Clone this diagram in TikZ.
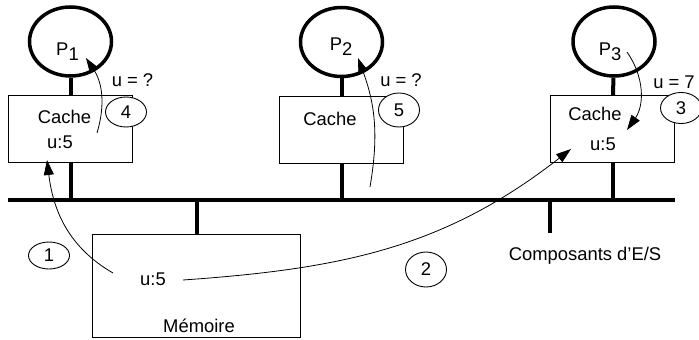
\documentclass[tikz,border=0pt]{standalone}
\usepackage{fontspec}
\setmainfont{Liberation Sans}
\usetikzlibrary{positioning,arrows.meta,shapes.geometric}

\begin{document}
\begin{tikzpicture}[
  x=1pt, y=-1pt,
  font=\fontsize{18.4}{20}\selectfont,
  proc/.style   = {draw, ellipse, line width=3.5pt, inner sep=0pt,
                   minimum width=82pt, minimum height=69pt},
  cache/.style  = {draw, line width=0.9pt, inner sep=0pt,
                   minimum width=124pt, minimum height=67pt},
  stepno/.style = {draw, ellipse, line width=0.9pt, fill=white, inner sep=0pt,
                   minimum width=41pt},
  txt/.style    = {inner sep=0pt, anchor=base},
  stem/.style   = {line width=4pt},
  arr/.style    = {-{Triangle[length=15pt,width=10pt]}, line width=0.8pt},
]
\useasboundingbox (0,0) rectangle (699,340);

% ---- bus ----
\coordinate (busL) at (8,199.5);
\coordinate (busR) at (675,199.5);
\draw[line width=4pt] (busL) -- (busR);

% ---- processors ----
\node[proc] (p1) at (70.5,41.5) {};
\node[proc] (p2) at (341.5,42) {};
\node[proc] (p3) at (614,41.5) {};
\node[txt] (p1t) at (67.5,55) {P\lower5pt\hbox{1}};
\node[txt] (p2t) at (341,50) {P\lower5pt\hbox{2}};
\node[txt] (p3t) at (610,55) {P\lower5pt\hbox{3}};

% ---- caches ----
\node[cache] (c1) at (70.5,129) {};
\node[cache] (c2) at (341.5,129.5) {};
\node[cache] (c3) at (612.5,129) {};
\node[txt] (c1t) at (64.5,123) {Cache};
\node[txt] (c1u) at (60,148) {u:5};
\node[txt] (c2t) at (330,125) {Cache};
\node[txt] (c3t) at (595,120) {Cache};
\node[txt] (c3u) at (603,150) {u:5};

% ---- memory and I/O ----
\node[cache, minimum width=208pt, minimum height=103pt] (mem) at (196.5,286) {};
\node[txt] (memu) at (153,285) {u:5};
\node[txt] (memt) at (199,332) {Mémoire};
\coordinate (io) at (550,233);
\node[txt] (iot) at (585,260) {Composants d’E/S};

% ---- stems ----
\draw[stem] (p1) -- (c1);
\draw[stem] (p2) -- (c2);
\draw[stem] (p3) -- (c3);
\draw[stem] (c1.south) -- (c1.south |- busL);
\draw[stem] (c2.south) -- (c2.south |- busL);
\draw[stem] (c3.south) -- (c3.south |- busL);
\draw[stem] (mem.north) -- (mem.north |- busL);
\draw[stem] (io) -- (io |- busL);

% ---- step numbers ----
\node[stepno, minimum height=30pt] (n4) at (126,112) {4};
\node[stepno, minimum height=34pt] (n5) at (399,110) {5};
\node[stepno, minimum height=31pt] (n3) at (681,108) {3};
\node[stepno, minimum height=27pt] (n1) at (49,255.5) {1};
\node[stepno, minimum height=35pt] (n2) at (426,269.5) {2};
\node[txt] (q4) at (132.5,86) {u = ?};
\node[txt] (q5) at (401,86) {u = ?};
\node[txt] (q3) at (674,88) {u = 7};

% ---- transfers ----
\coordinate (a1s) at (113,273);
\coordinate (a1e) at (47,160);
\coordinate (a2s) at (183,280);
\coordinate (a2e) at (571,149);
\coordinate (a3s) at (627,52);
\coordinate (a3e) at (627,130);
\coordinate (a4s) at (97,133);
\coordinate (a4e) at (86,58);
\coordinate (a5s) at (370,187);
\coordinate (a5e) at (358,58);

\draw[arr] (a1s) to[out=150,in=-83] (a1e);
\draw[arr] (a2s) to[out=4,in=218] (a2e);
\draw[arr] (a3s) to[out=-55,in=55] (a3e);
\draw[arr] (a4s) to[bend right=25] (a4e);
\draw[arr] (a5s) to[bend right=15] (a5e);

\end{tikzpicture}
\end{document}
